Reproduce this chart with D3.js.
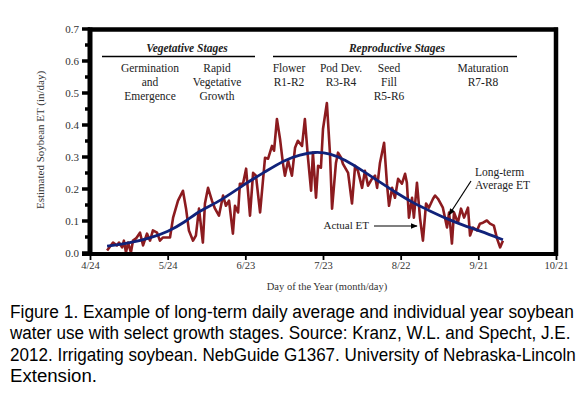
<!DOCTYPE html>
<html>
<head>
<meta charset="utf-8">
<script src="https://cdn.jsdelivr.net/npm/d3@7"></script>
<style>
  body { margin: 0; background: #fff; }
  svg { display: block; }
</style>
</head>
<body>
<script>
// day of year and daily ET in in/day
const actualDays = [120.6,122.9,124.4,125.2,126.4,127.1,127.9,128.7,129.8,130.6,131.8,133.3,134.5,136.0,137.2,138.3,139.9,141.0,142.2,143.7,
  144.9,146.1,148.0,149.9,151.1,152.2,153.8,154.9,156.1,157.6,158.4,159.6,161.1,162.3,163.8,165.4,166.5,167.7,169.2,170.0,171.2,171.9,
  173.1,174.3,175.8,177.0,178.1,179.7,181.6,182.8,184.3,185.1,186.2,187.4,188.5,189.3,190.5,192.0,193.2,194.3,195.9,197.0,198.2,199.4,
  200.1,201.3,202.1,203.2,204.0,205.5,206.7,207.5,209.0,209.8,211.0,211.7,213.7,215.2,216.4,217.5,219.1,220.2,221.4,222.9,224.1,
  224.9,226.0,227.6,228.7,229.5,230.7,231.8,233.0,234.5,235.7,236.4,237.2,238.4,239.1,240.3,241.5,242.6,243.8,244.9,246.5,
  247.3,248.4,250.3,251.9,252.7,253.8,254.6,256.1,257.3,258.5,260.0,260.8,261.9,263.5,264.6,265.8,267.3,268.5,270.0,271.2,272.4,273.5];
const actualET = [0.006,0.031,0.022,0.031,0.016,0.037,0.0,0.031,0.0,0.037,0.044,0.062,0.022,0.059,0.037,0.069,0.062,0.037,0.047,0.047,
  0.047,0.109,0.162,0.193,0.137,0.069,0.037,0.053,0.137,0.031,0.153,0.202,0.162,0.137,0.115,0.178,0.146,0.162,0.059,0.146,0.125,0.215,
  0.215,0.262,0.115,0.249,0.24,0.125,0.296,0.293,0.333,0.318,0.417,0.355,0.28,0.24,0.287,0.24,0.327,0.349,0.333,0.417,0.296,0.193,
  0.312,0.171,0.271,0.265,0.386,0.467,0.308,0.137,0.28,0.312,0.296,0.277,0.249,0.153,0.271,0.255,0.202,0.255,0.209,0.23,0.24,
  0.202,0.28,0.343,0.215,0.146,0.202,0.171,0.23,0.215,0.246,0.218,0.109,0.171,0.109,0.218,0.106,0.037,0.153,0.14,0.168,
  0.178,0.168,0.14,0.078,0.125,0.028,0.125,0.093,0.137,0.109,0.14,0.053,0.078,0.069,0.09,0.093,0.1,0.09,0.084,0.044,0.016,0.037];

const avgDays = [120.6,129.5,137.2,144.1,150.7,156.5,164.2,173.9,181.6,189.3,195.1,200.9,206.7,212.5,219.4,226.0,232.6,238.8,245.3,251.9,258.1,264.6,273.5];
const avgET = [0.02,0.03,0.045,0.065,0.095,0.132,0.16,0.215,0.252,0.29,0.305,0.315,0.31,0.29,0.255,0.22,0.185,0.155,0.13,0.105,0.085,0.068,0.04];

const tickDays = [114,144,174,204,234,264,294];
const tickLabels = ["4/24","5/24","6/23","7/23","8/22","9/21","10/21"];
const yTicks = [0,0.1,0.2,0.3,0.4,0.5,0.6,0.7];
const yMinor = [0.05,0.15,0.25,0.35,0.45,0.55,0.65];

const captionLines = [
  "Figure 1. Example of long-term daily average and individual year soybean",
  "water use with select growth stages. Source: Kranz, W.L. and Specht, J.E.",
  "2012. Irrigating soybean. NebGuide G1367. University of Nebraska-Lincoln",
  "Extension."
];
const captionWidths = [564, 561, 566, 87];

const width = 581, height = 393;
const serif = "'Liberation Serif', 'Times New Roman', serif";

const svg = d3.select("body").append("svg")
  .attr("width", width)
  .attr("height", height);

const x = d3.scaleLinear().domain([114, 294]).range([90, 556]);
const y = d3.scaleLinear().domain([0, 0.7]).range([252.5, 28.5]);

// frame (top + right)
svg.append("line").attr("x1", 88).attr("x2", 558).attr("y1", 29.5).attr("y2", 29.5)
   .attr("stroke", "#000").attr("stroke-width", 4.5);
svg.append("line").attr("x1", 556).attr("x2", 556).attr("y1", 27.5).attr("y2", 256)
   .attr("stroke", "#000").attr("stroke-width", 4.5);

// stage headers
const hdr = svg.append("g").attr("font-family", serif).attr("fill", "#222");
hdr.append("text").attr("x", 187).attr("y", 52).attr("text-anchor", "middle")
   .attr("font-size", 11.5).attr("font-weight", "bold").attr("font-style", "italic")
   .text("Vegetative Stages");
hdr.append("text").attr("x", 397).attr("y", 52).attr("text-anchor", "middle")
   .attr("font-size", 11.5).attr("font-weight", "bold").attr("font-style", "italic")
   .text("Reproductive Stages");
hdr.append("line").attr("x1", 102).attr("x2", 255).attr("y1", 56.5).attr("y2", 56.5)
   .attr("stroke", "#000").attr("stroke-width", 1.5);
hdr.append("line").attr("x1", 273).attr("x2", 517).attr("y1", 56.5).attr("y2", 56.5)
   .attr("stroke", "#000").attr("stroke-width", 1.5);

const stages = [
  {cx: 150, lines: ["Germination", "and", "Emergence"]},
  {cx: 217, lines: ["Rapid", "Vegetative", "Growth"]},
  {cx: 289, lines: ["Flower", "R1-R2"]},
  {cx: 341, lines: ["Pod Dev.", "R3-R4"]},
  {cx: 389, lines: ["Seed", "Fill", "R5-R6"]},
  {cx: 483, lines: ["Maturation", "R7-R8"]}
];
stages.forEach(s => {
  s.lines.forEach((t, i) => {
    hdr.append("text").attr("x", s.cx).attr("y", 72 + i * 13.8)
       .attr("text-anchor", "middle").attr("font-size", 11.5).text(t);
  });
});

// lines
const line = d3.line().x(d => x(d[0])).y(d => y(d[1]));
svg.append("path")
   .datum(actualDays.map((d, i) => [d, actualET[i]]))
   .attr("fill", "none").attr("stroke", "#8c1b1f").attr("stroke-width", 2.6)
   .attr("stroke-linejoin", "round")
   .attr("d", line);
svg.append("path")
   .datum(avgDays.map((d, i) => [d, avgET[i]]))
   .attr("fill", "none").attr("stroke", "#10227a").attr("stroke-width", 2.8)
   .attr("d", line.curve(d3.curveBasis));

// axes
const yAxis = svg.append("g").attr("transform", "translate(90,0)")
   .call(d3.axisLeft(y).tickValues(yTicks).tickSize(8).tickPadding(3).tickFormat(d3.format(".1f")));
yAxis.select(".domain").remove();
yAxis.selectAll(".tick line").attr("stroke-width", 3.5);
yAxis.selectAll("text").attr("font-family", serif).attr("font-size", 11).attr("fill", "#333");
const yMinorG = svg.append("g").attr("transform", "translate(90,0)")
   .call(d3.axisLeft(y).tickValues(yMinor).tickSize(5).tickFormat(""));
yMinorG.select(".domain").remove();
yMinorG.selectAll(".tick line").attr("stroke-width", 3.5);
svg.append("line").attr("x1", 90).attr("x2", 90).attr("y1", 27.5).attr("y2", 256)
   .attr("stroke", "#000").attr("stroke-width", 5);

const xAxis = svg.append("g").attr("transform", "translate(0,254)")
   .call(d3.axisBottom(x).tickValues(tickDays).tickSize(6).tickPadding(2)
     .tickFormat((d, i) => tickLabels[i]));
xAxis.select(".domain").remove();
xAxis.selectAll(".tick line").attr("stroke-width", 1.8);
xAxis.selectAll("text").attr("font-family", serif).attr("font-size", 10.5).attr("fill", "#333");
svg.append("line").attr("x1", 82).attr("x2", 558).attr("y1", 254).attr("y2", 254)
   .attr("stroke", "#000").attr("stroke-width", 4);

// axis titles
svg.append("text").attr("transform", "translate(44,140) rotate(-90)")
   .attr("text-anchor", "middle").attr("font-family", serif).attr("font-size", 11)
   .attr("fill", "#333").text("Estimated Soybean ET (in/day)");
svg.append("text").attr("x", 327).attr("y", 290)
   .attr("text-anchor", "middle").attr("font-family", serif).attr("font-size", 10.5)
   .attr("fill", "#333").text("Day of the Year (month/day)");

// annotations
const defs = svg.append("defs");
defs.append("marker").attr("id", "arr").attr("viewBox", "0 0 10 10")
   .attr("refX", 9).attr("refY", 5).attr("markerWidth", 7).attr("markerHeight", 7)
   .attr("orient", "auto").attr("markerUnits", "userSpaceOnUse")
   .append("path").attr("d", "M0,1 L10,5 L0,9 Z").attr("fill", "#000");

svg.append("text").attr("x", 475).attr("y", 176).attr("font-family", serif)
   .attr("font-size", 11.5).attr("fill", "#222").text("Long-term");
svg.append("text").attr("x", 475).attr("y", 189).attr("font-family", serif)
   .attr("font-size", 11.5).attr("fill", "#222").text("Average ET");
svg.append("line").attr("x1", 471).attr("y1", 181).attr("x2", 449).attr("y2", 215)
   .attr("stroke", "#000").attr("stroke-width", 1.2).attr("marker-end", "url(#arr)");

svg.append("text").attr("x", 369).attr("y", 229).attr("text-anchor", "end")
   .attr("font-family", serif).attr("font-size", 11).attr("fill", "#222").text("Actual ET");
svg.append("line").attr("x1", 374).attr("y1", 226).attr("x2", 417).attr("y2", 226)
   .attr("stroke", "#000").attr("stroke-width", 1.2).attr("marker-end", "url(#arr)");

// caption: condensed sans, squeezed horizontally to the widths seen in the figure
const cap = svg.append("g").attr("font-family", "'Liberation Sans', Arial, sans-serif")
   .attr("font-size", 19).attr("fill", "#000");
captionLines.forEach((t, i) => {
  const txt = cap.append("text").attr("x", 0).attr("y", 0).text(t);
  const w = txt.node().getComputedTextLength();
  txt.attr("transform", `translate(10,${318 + i * 21.3}) scale(${captionWidths[i] / w},1)`);
});
</script>
</body>
</html>
